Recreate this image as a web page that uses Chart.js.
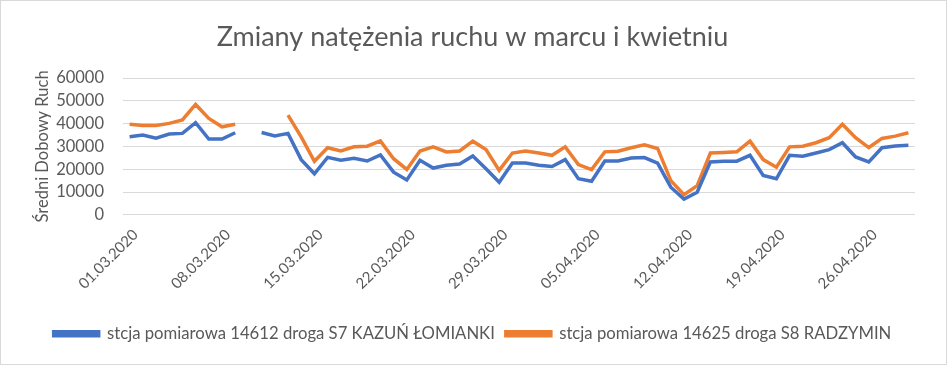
<!DOCTYPE html>
<html>
<head>
<meta charset="utf-8">
<script src="https://cdn.jsdelivr.net/npm/chart.js@4.4.0/dist/chart.umd.min.js"></script>
<style>
  html, body { margin: 0; padding: 0; background: #fff; }
  #wrap { width: 947px; height: 365px; box-sizing: border-box; border: 1px solid #d9d9d9; }
  canvas { display: block; }
</style>
</head>
<body>
<div id="wrap"><canvas id="trafficChart" width="945" height="363"></canvas></div>
<script>
// Dates (01.03.2020 - 29.04.2020)
const days = [
  "01.03.2020", "02.03.2020", "03.03.2020", "04.03.2020", "05.03.2020", "06.03.2020", "07.03.2020",
  "08.03.2020", "09.03.2020", "10.03.2020", "11.03.2020", "12.03.2020", "13.03.2020", "14.03.2020",
  "15.03.2020", "16.03.2020", "17.03.2020", "18.03.2020", "19.03.2020", "20.03.2020", "21.03.2020",
  "22.03.2020", "23.03.2020", "24.03.2020", "25.03.2020", "26.03.2020", "27.03.2020", "28.03.2020",
  "29.03.2020", "30.03.2020", "31.03.2020", "01.04.2020", "02.04.2020", "03.04.2020", "04.04.2020",
  "05.04.2020", "06.04.2020", "07.04.2020", "08.04.2020", "09.04.2020", "10.04.2020", "11.04.2020",
  "12.04.2020", "13.04.2020", "14.04.2020", "15.04.2020", "16.04.2020", "17.04.2020", "18.04.2020",
  "19.04.2020", "20.04.2020", "21.04.2020", "22.04.2020", "23.04.2020", "24.04.2020", "25.04.2020",
  "26.04.2020", "27.04.2020", "28.04.2020", "29.04.2020",
];

// S7 Kazuń Łomianki (null = brak danych)
const s7Kazun = [
  34200, 35000, 33600, 35400, 35700, 40400, 33200, 33200, 36000, null,
  36100, 34600, 35700, 24200, 18000, 25200, 23900, 24800, 23600, 26300,
  18700, 15300, 23900, 20500, 21700, 22300, 25800, 20200, 14300, 22700,
  22700, 21700, 21200, 24200, 15800, 14700, 23600, 23600, 24900, 25100,
  22700, 12100, 6900, 9900, 23200, 23500, 23500, 26100, 17300, 15800,
  26100, 25700, 27100, 28600, 31600, 25400, 23200, 29400, 30200, 30500,
];

// S8 Radzymin
const s8Radzymin = [
  39700, 39200, 39200, 40100, 41600, 48400, 42300, 38600, 39700, null,
  null, null, 43700, 34200, 23500, 29400, 28000, 29800, 30100, 32400,
  24600, 19900, 28000, 29800, 27600, 28000, 32300, 28600, 19500, 27100,
  28000, 27100, 26100, 29800, 22000, 19800, 27600, 27900, 29400, 30700,
  29100, 15000, 8800, 12800, 27100, 27300, 27600, 32300, 24200, 20900,
  29800, 30100, 31600, 33800, 39700, 33800, 29500, 33500, 34500, 36000,
];

const seriesNames = [
  "stcja pomiarowa 14612 droga S7 KAZUŃ ŁOMIANKI",
  "stcja pomiarowa 14625 droga S8 RADZYMIN",
];

const FONT = "Lato, 'Noto Sans', sans-serif";
const TEXT = "#595959";
const GRID = "#d9d9d9";

const ctx = document.getElementById("trafficChart").getContext("2d");
new Chart(ctx, {
  type: "line",
  data: {
    labels: days,
    datasets: [
      {
        label: seriesNames[0],
        data: s7Kazun,
        borderColor: "#4472c4",
        backgroundColor: "#4472c4",
        borderWidth: 3.5,
        pointRadius: 0,
        tension: 0,
      },
      {
        label: seriesNames[1],
        data: s8Radzymin,
        borderColor: "#ed7d31",
        backgroundColor: "#ed7d31",
        borderWidth: 3.5,
        pointRadius: 0,
        tension: 0,
      },
    ],
  },
  options: {
    responsive: false,
    animation: false,
    layout: { padding: { left: 29, right: 31, top: 0, bottom: 12 } },
    plugins: {
      title: {
        display: true,
        text: "Zmiany natężenia ruchu w marcu i kwietniu",
        color: TEXT,
        font: { family: FONT, size: 27, weight: "normal" },
        padding: { top: 20, bottom: 24.6 },
      },
      legend: {
        position: "bottom",
        labels: {
          color: TEXT,
          font: { family: FONT, size: 16.7 },
          boxWidth: 45,
          boxHeight: 4,
          padding: 11,
        },
      },
      tooltip: { enabled: false },
    },
    scales: {
      x: {
        offset: true,
        grid: { display: false, drawTicks: false },
        border: { display: false },
        ticks: {
          autoSkip: false,
          minRotation: 45,
          maxRotation: 45,
          color: TEXT,
          font: { family: FONT, size: 15 },
          padding: 11,
          labelOffset: 6,
          callback: (value, index) => (index % 7 === 0 ? days[index] : ""),
        },
        afterFit: (scale) => {
          scale.height = 99.5;
        },
      },
      y: {
        min: 0,
        max: 60000,
        grid: { color: GRID, drawTicks: false },
        border: { display: false },
        ticks: {
          stepSize: 10000,
          autoSkip: false,
          color: TEXT,
          font: { family: FONT, size: 16.5 },
          padding: 19,
          callback: (value) => String(value),
        },
        title: {
          display: true,
          text: "Średni Dobowy Ruch",
          color: TEXT,
          font: { family: FONT, size: 16.5 },
          padding: { top: 3, bottom: 0 },
        },
        afterFit: (scale) => {
          scale.width = 93;
        },
      },
    },
  },
});
</script>
</body>
</html>
